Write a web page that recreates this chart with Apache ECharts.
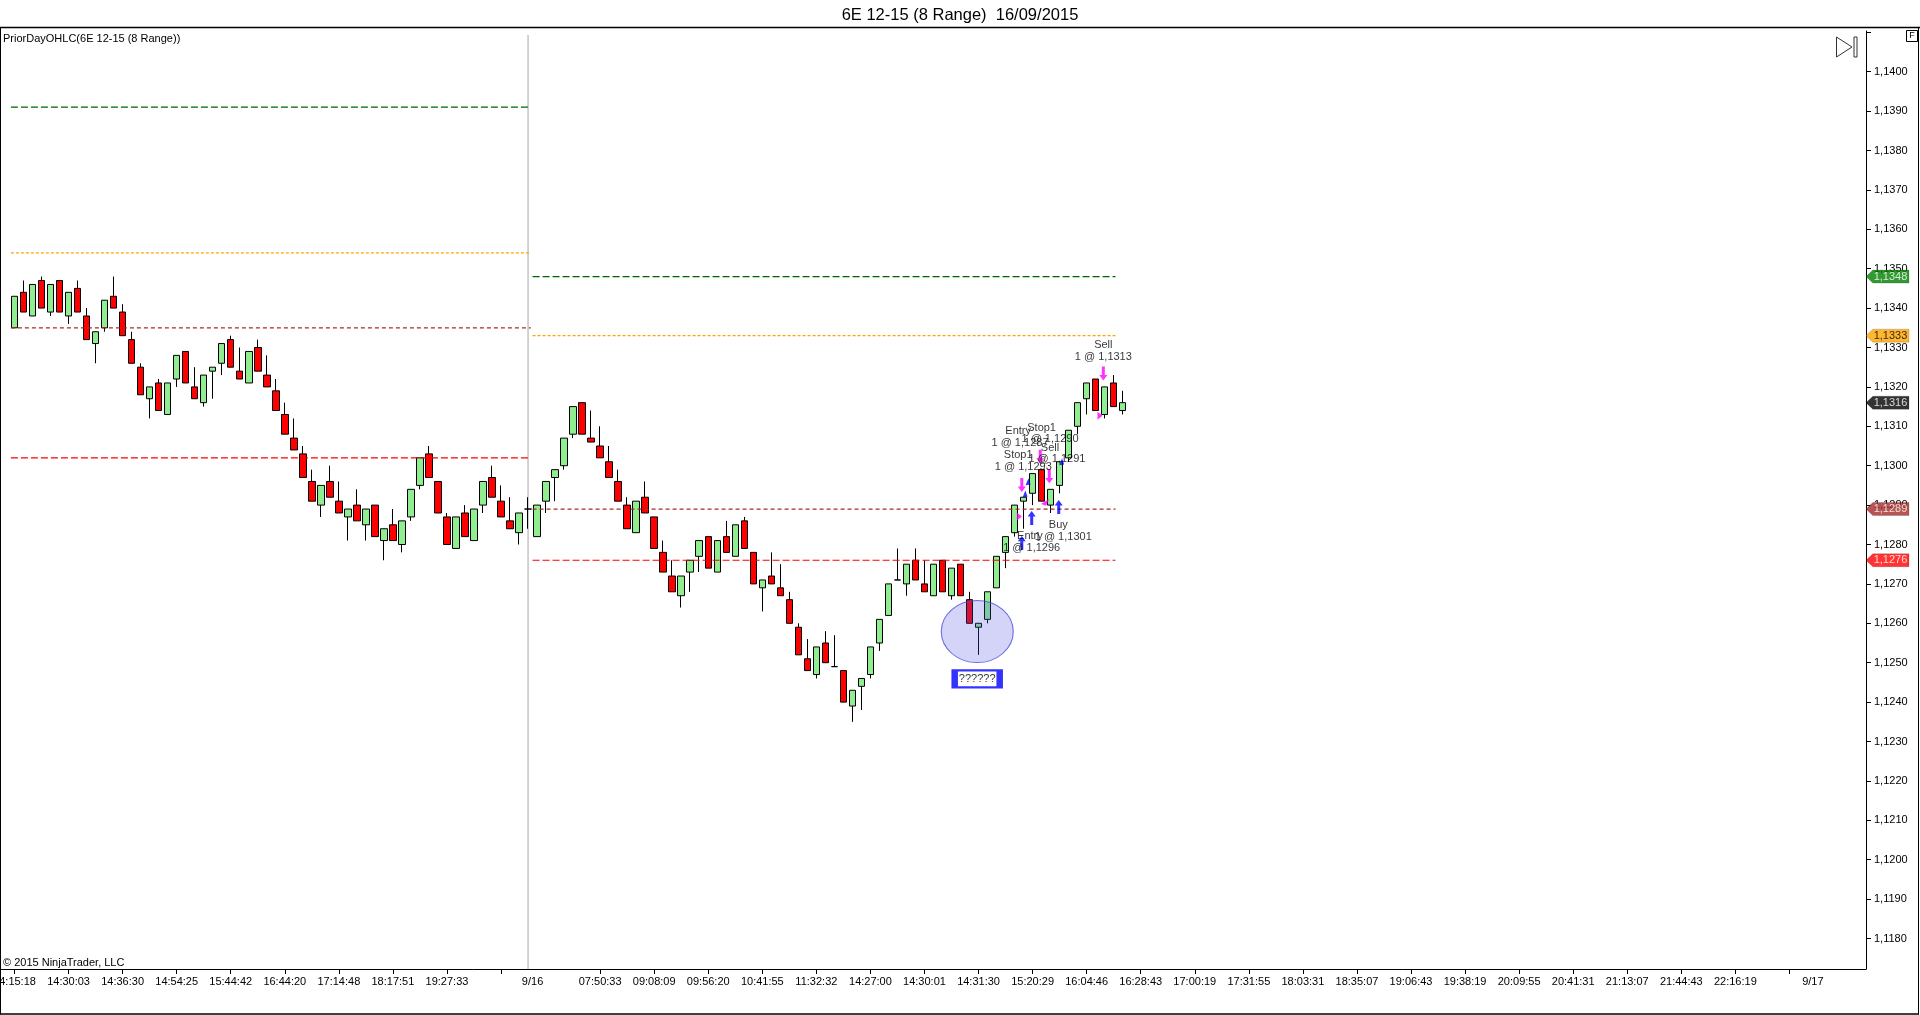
<!DOCTYPE html>
<html>
<head>
<meta charset="utf-8">
<title>6E 12-15 (8 Range) 16/09/2015</title>
<script src="https://cdn.jsdelivr.net/npm/echarts@6.0.0/dist/echarts.min.js"></script>
<style>
html, body { margin: 0; padding: 0; background: #fff; }
#chart { width: 1920px; height: 1015px; }
</style>
</head>
<body>
<div id="chart"></div>
<script>
// 8 range bars, 15/09 afternoon + 16/09
var opens = [
    1.1335, 1.1344, 1.1338, 1.1347, 1.1339, 1.1347, 1.1338, 1.1345, 1.1338, 1.1331,
    1.1335, 1.1343, 1.1339, 1.1332, 1.1325, 1.1317, 1.1321, 1.1313, 1.1322, 1.1329,
    1.1320, 1.1316, 1.1324, 1.1326, 1.1332, 1.1324, 1.1321, 1.1330, 1.1323, 1.1319,
    1.1313, 1.1307, 1.1303, 1.1296, 1.1290, 1.1296, 1.1291, 1.1287, 1.1290, 1.1285,
    1.1290, 1.1281, 1.1285, 1.1280, 1.1287, 1.1295, 1.1303, 1.1296, 1.1287, 1.1279,
    1.1288, 1.1281, 1.1290, 1.1297, 1.1291, 1.1286, 1.1283, 1.1289, 1.1282, 1.1291,
    1.1297, 1.1300, 1.1308, 1.1316, 1.1307, 1.1305, 1.1301, 1.1296, 1.1290, 1.1283,
    1.1292, 1.1287, 1.1278, 1.1272, 1.1267, 1.1273, 1.1277, 1.1282, 1.1273, 1.1282,
    1.1277, 1.1286, 1.1278, 1.1269, 1.1272, 1.1269, 1.1266, 1.1259, 1.1251, 1.1247,
    1.1255, 1.1249, 1.1248, 1.1239, 1.1244, 1.1247, 1.1255, 1.1262, 1.1271, 1.1270,
    1.1276, 1.1270, 1.1267, 1.1276, 1.1267, 1.1275, 1.1266, 1.1259, 1.1261, 1.1269,
    1.1278, 1.1283, 1.1291, 1.1293, 1.1299, 1.1290, 1.1295, 1.1302, 1.1310, 1.1317,
    1.1322, 1.1313, 1.1321, 1.1314
];
var closes = [
    1.1343, 1.1339, 1.1346, 1.1340, 1.1346, 1.1339, 1.1344, 1.1339, 1.1332, 1.1334,
    1.1342, 1.1340, 1.1333, 1.1326, 1.1318, 1.1320, 1.1314, 1.1321, 1.1328, 1.1321,
    1.1317, 1.1323, 1.1325, 1.1331, 1.1325, 1.1322, 1.1329, 1.1324, 1.1320, 1.1314,
    1.1308, 1.1304, 1.1297, 1.1291, 1.1295, 1.1292, 1.1288, 1.1289, 1.1286, 1.1289,
    1.1282, 1.1284, 1.1281, 1.1286, 1.1294, 1.1302, 1.1297, 1.1288, 1.1280, 1.1287,
    1.1282, 1.1289, 1.1296, 1.1292, 1.1287, 1.1284, 1.1288, 1.1289, 1.1290, 1.1296,
    1.1299, 1.1307, 1.1315, 1.1308, 1.1306, 1.1302, 1.1297, 1.1291, 1.1284, 1.1291,
    1.1288, 1.1279, 1.1273, 1.1268, 1.1272, 1.1276, 1.1281, 1.1274, 1.1281, 1.1278,
    1.1285, 1.1279, 1.1270, 1.1271, 1.1270, 1.1267, 1.1260, 1.1252, 1.1248, 1.1254,
    1.1250, 1.1249, 1.1240, 1.1243, 1.1246, 1.1254, 1.1261, 1.1270, 1.1271, 1.1275,
    1.1271, 1.1268, 1.1275, 1.1268, 1.1274, 1.1267, 1.1260, 1.1260, 1.1268, 1.1277,
    1.1282, 1.1290, 1.1292, 1.1298, 1.1291, 1.1294, 1.1301, 1.1309, 1.1316, 1.1321,
    1.1314, 1.1320, 1.1315, 1.1316
];
var highs = [
    1.1343, 1.1347, 1.1346, 1.1348, 1.1346, 1.1347, 1.1344, 1.1347, 1.1340, 1.1334,
    1.1342, 1.1348, 1.1341, 1.1334, 1.1326, 1.1320, 1.1322, 1.1321, 1.1328, 1.1329,
    1.1325, 1.1323, 1.1325, 1.1331, 1.1333, 1.1330, 1.1329, 1.1332, 1.1328, 1.1322,
    1.1316, 1.1312, 1.1305, 1.1299, 1.1295, 1.1300, 1.1296, 1.1289, 1.1294, 1.1289,
    1.1290, 1.1284, 1.1289, 1.1286, 1.1294, 1.1302, 1.1305, 1.1296, 1.1288, 1.1287,
    1.1290, 1.1289, 1.1296, 1.1300, 1.1295, 1.1292, 1.1288, 1.1292, 1.1290, 1.1296,
    1.1299, 1.1307, 1.1315, 1.1316, 1.1314, 1.1310, 1.1305, 1.1299, 1.1292, 1.1291,
    1.1296, 1.1287, 1.1281, 1.1276, 1.1272, 1.1276, 1.1281, 1.1282, 1.1281, 1.1286,
    1.1285, 1.1287, 1.1278, 1.1271, 1.1278, 1.1275, 1.1268, 1.1260, 1.1256, 1.1254,
    1.1258, 1.1257, 1.1248, 1.1243, 1.1246, 1.1254, 1.1261, 1.1270, 1.1279, 1.1275,
    1.1279, 1.1276, 1.1275, 1.1276, 1.1274, 1.1275, 1.1268, 1.1260, 1.1268, 1.1277,
    1.1282, 1.1290, 1.1292, 1.1298, 1.1299, 1.1294, 1.1301, 1.1309, 1.1316, 1.1321,
    1.1322, 1.1320, 1.1323, 1.1319
];
var lows = [
    1.1335, 1.1339, 1.1338, 1.1340, 1.1338, 1.1339, 1.1336, 1.1339, 1.1332, 1.1326,
    1.1334, 1.1340, 1.1333, 1.1326, 1.1318, 1.1312, 1.1314, 1.1313, 1.1320, 1.1321,
    1.1317, 1.1315, 1.1317, 1.1323, 1.1325, 1.1322, 1.1321, 1.1324, 1.1320, 1.1314,
    1.1308, 1.1304, 1.1297, 1.1291, 1.1287, 1.1292, 1.1288, 1.1281, 1.1286, 1.1281,
    1.1282, 1.1276, 1.1281, 1.1278, 1.1286, 1.1294, 1.1297, 1.1288, 1.1280, 1.1279,
    1.1282, 1.1281, 1.1288, 1.1292, 1.1287, 1.1284, 1.1280, 1.1284, 1.1282, 1.1288,
    1.1291, 1.1299, 1.1307, 1.1308, 1.1306, 1.1302, 1.1297, 1.1291, 1.1284, 1.1283,
    1.1288, 1.1279, 1.1273, 1.1268, 1.1264, 1.1268, 1.1273, 1.1274, 1.1273, 1.1278,
    1.1277, 1.1279, 1.1270, 1.1263, 1.1270, 1.1267, 1.1260, 1.1252, 1.1248, 1.1246,
    1.1250, 1.1249, 1.1240, 1.1235, 1.1238, 1.1246, 1.1253, 1.1262, 1.1271, 1.1267,
    1.1271, 1.1268, 1.1267, 1.1268, 1.1266, 1.1267, 1.1260, 1.1252, 1.1260, 1.1269,
    1.1274, 1.1282, 1.1284, 1.1290, 1.1291, 1.1288, 1.1293, 1.1301, 1.1308, 1.1313,
    1.1314, 1.1312, 1.1315, 1.1313
];

var slotCount = 206;      // bars + free space on the right
var sessionBreak = 57;    // 9/16 separator

// x axis (positions are bar numbers)
var tickIdx = [0, 6, 12, 18, 24, 30, 36, 42, 48, 54,
    65, 71, 77, 83, 89, 95, 101, 107, 113, 119, 125, 131, 137, 143, 149, 155,
    161, 167, 173, 179, 185, 191, 197];
var labelIdx = [0, 6, 12, 18, 24, 30, 36, 42, 48, 57.5,
    65, 71, 77, 83, 89, 95, 101, 107, 113, 119, 125, 131, 137, 143, 149, 155,
    161, 167, 173, 179, 185, 191, 199.6];
var labelText = ['14:15:18', '14:30:03', '14:36:30', '14:54:25', '15:44:42', '16:44:20',
    '17:14:48', '18:17:51', '19:27:33', '9/16',
    '07:50:33', '09:08:09', '09:56:20', '10:41:55', '11:32:32', '14:27:00', '14:30:01',
    '14:31:30', '15:20:29', '16:04:46', '16:28:43', '17:00:19', '17:31:55', '18:03:31',
    '18:35:07', '19:06:43', '19:38:19', '20:09:55', '20:41:31', '21:13:07', '21:44:43',
    '22:16:19', '9/17'];

// y axis
var yMin = 1.117226;
var yMax = 1.141033;
var yLabelValues = [1.1180, 1.1190, 1.1200, 1.1210, 1.1220, 1.1230, 1.1240, 1.1250,
    1.1260, 1.1270, 1.1280, 1.1290, 1.1300, 1.1310, 1.1320, 1.1330, 1.1340, 1.1350,
    1.1360, 1.1370, 1.1380, 1.1390, 1.1400];
var yTickValues = yLabelValues.concat([1.1410]);

// PriorDayOHLC : high, open, close, low
var levelColors = ['#006400', '#FFA500', '#A52A2A', '#FF0000'];
var levelDash = [[7, 3], [3, 2], [4, 3], [7, 3]];
var levelsDay1 = [1.1391, 1.1354, 1.1335, 1.1302];
var levelsDay2 = [1.1348, 1.1333, 1.1289, 1.1276];
var day1Span = [-0.4, 57.3];
var day2Span = [57.5, 122.2];
var lastPrice = 1.1316;

// executions [bar, price]
var sellArrows = [[120.85, 1.13234], [111.8, 1.12951], [113.85, 1.13023], [114.85, 1.12973]];
var buyArrows = [[111.8, 1.12804], [112.9, 1.12867], [115.9, 1.12895]];
var exitRight = [[111.53, 1.12871], [120.48, 1.13127]];
var exitLeft = [[114.38, 1.12907]];
var entryMarks = [[112.5, 1.12959], [112.16, 1.12928], [116.23, 1.13010]];
var notes = [
    ['Sell', 120.85, 1.13306], ['1 @ 1,1313', 120.85, 1.13275],
    ['Entry', 111.4, 1.13088], ['Stop1', 114.0, 1.13096],
    ['1 @ 1,1290', 114.93, 1.13067], ['1 @ 1,1287', 111.6, 1.13057],
    ['Sell', 114.93, 1.13044], ['Stop1', 111.4, 1.13027],
    ['1 @ 1,1291', 115.7, 1.13016], ['1 @ 1,1293', 111.97, 1.12998],
    ['Entry', 112.7, 1.12822], ['1 @ 1,1296', 112.9, 1.12790],
    ['Buy', 115.85, 1.12850], ['1 @ 1,1301', 116.4, 1.12820]
];
var circlePos = [106.86, 1.12579];
var boxPos = [106.85, 1.12459];

var FONT = '"Liberation Sans", Arial, sans-serif';

function fmtPrice(v) {
    return v.toFixed(4).replace('.', ',');
}

function buildOption() {
    var cats = [];
    for (var i = 0; i < slotCount; i++) cats.push(i);
    var candles = [];
    for (var j = 0; j < opens.length; j++) {
        candles.push([opens[j], closes[j], lows[j], highs[j]]);
    }

    var series = [{
        type: 'candlestick',
        xAxisIndex: 0,
        yAxisIndex: 0,
        barWidth: 7,
        z: 2,
        silent: true,
        itemStyle: {
            color: '#90EE90', color0: '#FF0000',
            borderColor: '#000', borderColor0: '#000', borderColorDoji: '#000',
            borderWidth: 1
        },
        data: candles
    }, {
        // session separator
        type: 'line', xAxisIndex: 1, yAxisIndex: 0, silent: true, showSymbol: false, z: 1,
        lineStyle: {color: '#c4c4c4', width: 1.5},
        data: [[sessionBreak, yMin], [sessionBreak, 1.14093]]
    }];

    // prior day lines
    for (var k = 0; k < 4; k++) {
        var spans = [[day1Span, levelsDay1[k]], [day2Span, levelsDay2[k]]];
        for (var s = 0; s < spans.length; s++) {
            series.push({
                type: 'line', xAxisIndex: 1, yAxisIndex: 0, silent: true, showSymbol: false, z: 3,
                lineStyle: {color: levelColors[k], width: 1.2, type: levelDash[k]},
                data: [[spans[s][0][0], spans[s][1]], [spans[s][0][1], spans[s][1]]]
            });
        }
    }

    var markerBase = {type: 'scatter', xAxisIndex: 1, yAxisIndex: 0, silent: true, z: 5};
    series.push(Object.assign({}, markerBase, {
        symbol: 'path://M2.5,0 L5.5,0 L5.5,8 L8,8 L4,13 L0,8 L2.5,8 Z',
        symbolSize: [8, 14],
        itemStyle: {color: '#FF00FF'},
        data: sellArrows
    }));
    series.push(Object.assign({}, markerBase, {
        symbol: 'path://M4,0 L8,5 L5.5,5 L5.5,13 L2.5,13 L2.5,5 L0,5 Z',
        symbolSize: [8, 14],
        itemStyle: {color: '#0000FF'},
        data: buyArrows
    }));
    series.push(Object.assign({}, markerBase, {
        symbol: 'path://M0,0 L6,4 L0,8 Z', symbolSize: [5, 8],
        itemStyle: {color: '#FF00FF'},
        data: exitRight
    }));
    series.push(Object.assign({}, markerBase, {
        symbol: 'path://M8,0 L5,8 L0,6 Z', symbolSize: [8, 7],
        itemStyle: {color: '#FF00FF'},
        data: exitLeft
    }));
    series.push(Object.assign({}, markerBase, {
        symbol: 'path://M0,8 L4,0 L7,7 Z', symbolSize: [5, 7],
        itemStyle: {color: '#0000FF'},
        data: entryMarks
    }));

    // execution texts
    series.push(Object.assign({}, markerBase, {
        symbolSize: 0, z: 6,
        label: {
            show: true, position: 'inside', formatter: '{b}',
            fontFamily: FONT, fontSize: 11, color: '#000'
        },
        data: notes.map(function (n) { return {name: n[0], value: [n[1], n[2]]}; })
    }));

    // hand drawn ellipse and the ?????? box
    series.push(Object.assign({}, markerBase, {
        symbol: 'circle', symbolSize: [72, 62], z: 7,
        itemStyle: {color: 'rgba(80,80,230,0.30)', borderColor: '#4b4bdc', borderWidth: 1},
        data: [circlePos]
    }));
    series.push(Object.assign({}, markerBase, {
        symbol: 'rect', symbolSize: [45, 17], z: 8,
        itemStyle: {color: '#fff', borderColor: '#0000FF', borderWidth: 4},
        label: {show: true, position: 'inside', formatter: '??????', fontFamily: FONT, fontSize: 11, color: '#000'},
        data: [boxPos]
    }));

    // price tags on the axis
    var tags = [
        {value: [slotCount - 0.5, levelsDay2[0]], bg: '#008000', fg: '#fff'},
        {value: [slotCount - 0.5, levelsDay2[1]], bg: '#FFA500', fg: '#000'},
        {value: [slotCount - 0.5, lastPrice], bg: '#000000', fg: '#fff'},
        {value: [slotCount - 0.5, levelsDay2[2]], bg: '#A52A2A', fg: '#fff'},
        {value: [slotCount - 0.5, levelsDay2[3]], bg: '#FF0000', fg: '#fff'}
    ];
    series.push({
        type: 'scatter', xAxisIndex: 1, yAxisIndex: 0, silent: true, clip: false, z: 10,
        symbol: 'path://M0,6.5 L7,0 L44,0 L44,13 L7,13 Z',
        symbolSize: [43, 13],
        symbolOffset: [21.5, 0],
        data: tags.map(function (t) {
            return {
                value: t.value,
                itemStyle: {color: t.bg, borderColor: 'rgba(0,0,0,0.35)', borderWidth: 0.5},
                label: {
                    show: true, position: 'inside', offset: [3, 0],
                    formatter: fmtPrice(t.value[1]),
                    fontFamily: FONT, fontSize: 11, color: t.fg
                }
            };
        })
    });

    return {
        animation: false,
        backgroundColor: '#fff',
        textStyle: {fontFamily: FONT},
        grid: {left: 10, right: 54, top: 31, bottom: 46, containLabel: false, outerBoundsMode: 'none'},
        xAxis: [{
            type: 'category', data: cats, boundaryGap: true, show: false
        }, {
            type: 'value', min: -0.5, max: slotCount - 0.5, position: 'bottom',
            splitLine: {show: false},
            axisLine: {show: true, onZero: false, lineStyle: {color: '#000', width: 1}},
            axisTick: {show: true, length: 5, customValues: tickIdx, lineStyle: {color: '#000'}},
            axisLabel: {
                show: true, customValues: labelIdx, margin: 7,
                fontFamily: FONT, fontSize: 11, color: '#000',
                formatter: function (v) {
                    for (var i = 0; i < labelIdx.length; i++) {
                        if (Math.abs(labelIdx[i] - v) < 1e-6) return labelText[i];
                    }
                    return '';
                }
            }
        }],
        yAxis: [{
            type: 'value', position: 'right', min: yMin, max: yMax, scale: true,
            splitLine: {show: false},
            axisLine: {show: true, onZero: false, lineStyle: {color: '#000', width: 1}},
            axisTick: {show: true, length: 5, customValues: yTickValues, lineStyle: {color: '#000'}},
            axisLabel: {
                show: true, customValues: yLabelValues, margin: 8,
                fontFamily: FONT, fontSize: 11, color: '#000',
                formatter: function (v) { return fmtPrice(v); }
            }
        }],
        graphic: [
            {type: 'text', left: 'center', top: 7, style: {text: '6E 12-15 (8 Range)  16/09/2015', font: '16.5px ' + FONT, fill: '#000'}},
            {type: 'line', shape: {x1: 0, y1: 27.5, x2: 1920, y2: 27.5}, style: {stroke: '#000', lineWidth: 1.5}},
            {type: 'line', shape: {x1: 0.5, y1: 27.5, x2: 0.5, y2: 1014.5}, style: {stroke: '#000', lineWidth: 1}},
            {type: 'line', shape: {x1: 1918.5, y1: 27.5, x2: 1918.5, y2: 1014.5}, style: {stroke: '#000', lineWidth: 1}},
            {type: 'line', shape: {x1: 0, y1: 1014, x2: 1919, y2: 1014}, style: {stroke: '#000', lineWidth: 1.5}},
            {type: 'line', shape: {x1: 0, y1: 969.5, x2: 12, y2: 969.5}, style: {stroke: '#000', lineWidth: 1}},
            {type: 'text', left: 3, top: 33, style: {text: 'PriorDayOHLC(6E 12-15 (8 Range))', font: '11px ' + FONT, fill: '#000'}},
            {type: 'text', left: 3, top: 957, style: {text: '\u00a9 2015 NinjaTrader, LLC', font: '11px ' + FONT, fill: '#000'}},
            {type: 'polygon', shape: {points: [[1836.5, 37], [1852, 47], [1836.5, 57]]}, style: {fill: 'none', stroke: '#333', lineWidth: 1}},
            {type: 'rect', shape: {x: 1854, y: 37, width: 3, height: 20}, style: {fill: 'none', stroke: '#333', lineWidth: 1}},
            {type: 'rect', shape: {x: 1906.5, y: 30.5, width: 11, height: 11}, style: {fill: '#fff', stroke: '#000', lineWidth: 1}},
            {type: 'text', x: 1912, y: 36, style: {text: 'F', font: '9px ' + FONT, fill: '#000', align: 'center', verticalAlign: 'middle'}}
        ],
        series: series
    };
}

var myChart = echarts.init(document.getElementById('chart'));
myChart.setOption(buildOption());
</script>
</body>
</html>
